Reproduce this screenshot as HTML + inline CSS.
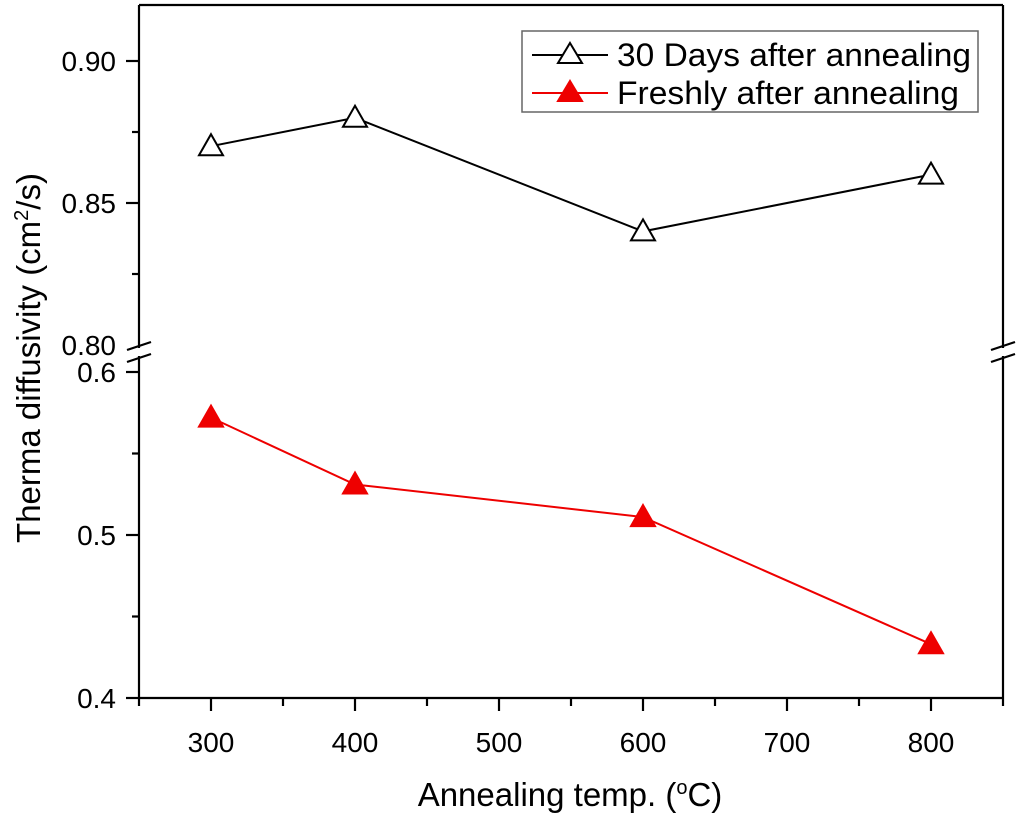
<!DOCTYPE html>
<html><head><meta charset="utf-8"><style>
html,body{margin:0;padding:0;background:#fff;}
svg{display:block;font-family:"Liberation Sans",Arial,sans-serif;}
</style></head><body>
<svg id="chart" width="1024" height="814" viewBox="0 0 1024 814">
<g id="axes"></g>
<g id="series"></g>
<g>
  <rect x="522" y="31" width="456" height="81" fill="#fff" stroke="#666" stroke-width="1.5"/>
  <g>
    <line x1="532" y1="55" x2="608" y2="55" stroke="#000" stroke-width="2"/>
    <polygon points="570,43 582,63 558,63" fill="#fff" stroke="#000" stroke-width="2"/>
    <text x="617" y="66" font-size="32" textLength="354" lengthAdjust="spacingAndGlyphs">30 Days after annealing</text>
  </g>
  <g>
    <line x1="532" y1="93" x2="608" y2="93" stroke="#e00" stroke-width="2"/>
    <polygon points="570,81 582,101 558,101" fill="#e00" stroke="#e00" stroke-width="2"/>
    <text x="617" y="104" font-size="32" textLength="342" lengthAdjust="spacingAndGlyphs">Freshly after annealing</text>
  </g>
</g>
<text x="570" y="806" font-size="33" text-anchor="middle">Annealing temp. (<tspan font-size="20" dy="-12">o</tspan><tspan dy="12">C)</tspan></text>
<text transform="translate(40,358) rotate(-90)" font-size="33" text-anchor="middle">Therma diffusivity (cm<tspan font-size="20" dy="-12">2</tspan><tspan dy="12">/s)</tspan></text>
</svg>
<script>
const categories=[300,400,600,800];
const daysValues=[0.87,0.88,0.84,0.86];
const freshValues=[0.572,0.531,0.511,0.433];
const xTicks=[300,400,500,600,700,800];
const upperTicks=["0.80","0.85","0.90"];
const lowerTicks=["0.4","0.5","0.6"];

const NS="http://www.w3.org/2000/svg";
const L=139,R=1003,T=5,B=698;
function xs(v){return 211+(v-300)*1.44;}
function yu(v){return 345-(v-0.80)*2840;}
function yl(v){return 698-(v-0.4)*1630;}
function mk(tag,attrs,parent){const e=document.createElementNS(NS,tag);for(const k in attrs)e.setAttribute(k,attrs[k]);parent.appendChild(e);return e;}
const ax=document.getElementById('axes');
const S={stroke:"#000","stroke-width":2.2,fill:"none"};
let e;
e=mk('line',Object.assign({x1:L,y1:T,x2:R,y2:T},S),ax);


e=mk('line',Object.assign({x1:L,y1:B,x2:R,y2:B},S),ax);


[[L,'y-axis-left'],[R,'y-axis-right']].forEach(([x,n])=>{
  e=mk('line',Object.assign({x1:x,y1:T,x2:x,y2:348},S),ax);
  
  
  e=mk('line',Object.assign({x1:x,y1:356,x2:x,y2:B},S),ax);
  
  
  e=mk('line',Object.assign({x1:x-12,y1:350,x2:x+12,y2:342},S),ax);
  
  
  mk('line',Object.assign({x1:x-12,y1:362,x2:x+12,y2:354},S),ax);
});
xTicks.forEach(v=>{mk('line',Object.assign({x1:xs(v),y1:B,x2:xs(v),y2:B+13},S),ax);
  const t=mk('text',{x:xs(v),y:B+54,"font-size":28,"text-anchor":"middle"},ax);t.textContent=v;
  
  });
for(let v=250;v<=850;v+=100){mk('line',Object.assign({x1:xs(v),y1:B,x2:xs(v),y2:B+8},S),ax);}
upperTicks.forEach(s=>{const v=+s,y=yu(v);if(v>0.8)mk('line',Object.assign({x1:L-13,y1:y,x2:L,y2:y},S),ax);
  const t=mk('text',{x:L-23,y:y+10,"font-size":28,"text-anchor":"end"},ax);t.textContent=s;
  
  });
[0.825,0.875].forEach(v=>mk('line',Object.assign({x1:L-7,y1:yu(v),x2:L,y2:yu(v)},S),ax));
lowerTicks.forEach(s=>{const v=+s,y=yl(v);mk('line',Object.assign({x1:L-13,y1:y,x2:L,y2:y},S),ax);
  const t=mk('text',{x:L-23,y:y+10,"font-size":28,"text-anchor":"end"},ax);t.textContent=s;
  
  });
[0.45,0.55].forEach(v=>mk('line',Object.assign({x1:L-7,y1:yl(v),x2:L,y2:yl(v)},S),ax));
const sg=document.getElementById('series');
function series(vals,yf,color,fill,name){
  const g=mk('g',{},sg);
  
  
  mk('polyline',{points:categories.map((c,i)=>xs(c)+','+yf(vals[i])).join(' '),fill:'none',stroke:color,'stroke-width':2},g);
  categories.forEach((c,i)=>{const x=xs(c),y=yf(vals[i]);
    const p=mk('polygon',{points:`${x},${y-12} ${x+12},${y+9} ${x-12},${y+9}`,fill:fill,stroke:color,'stroke-width':2},g);
    
    });
}
series(daysValues,yu,'#000','#fff','series-30-days');
series(freshValues,yl,'#e00','#e00','series-freshly');
</script>
</body></html>
